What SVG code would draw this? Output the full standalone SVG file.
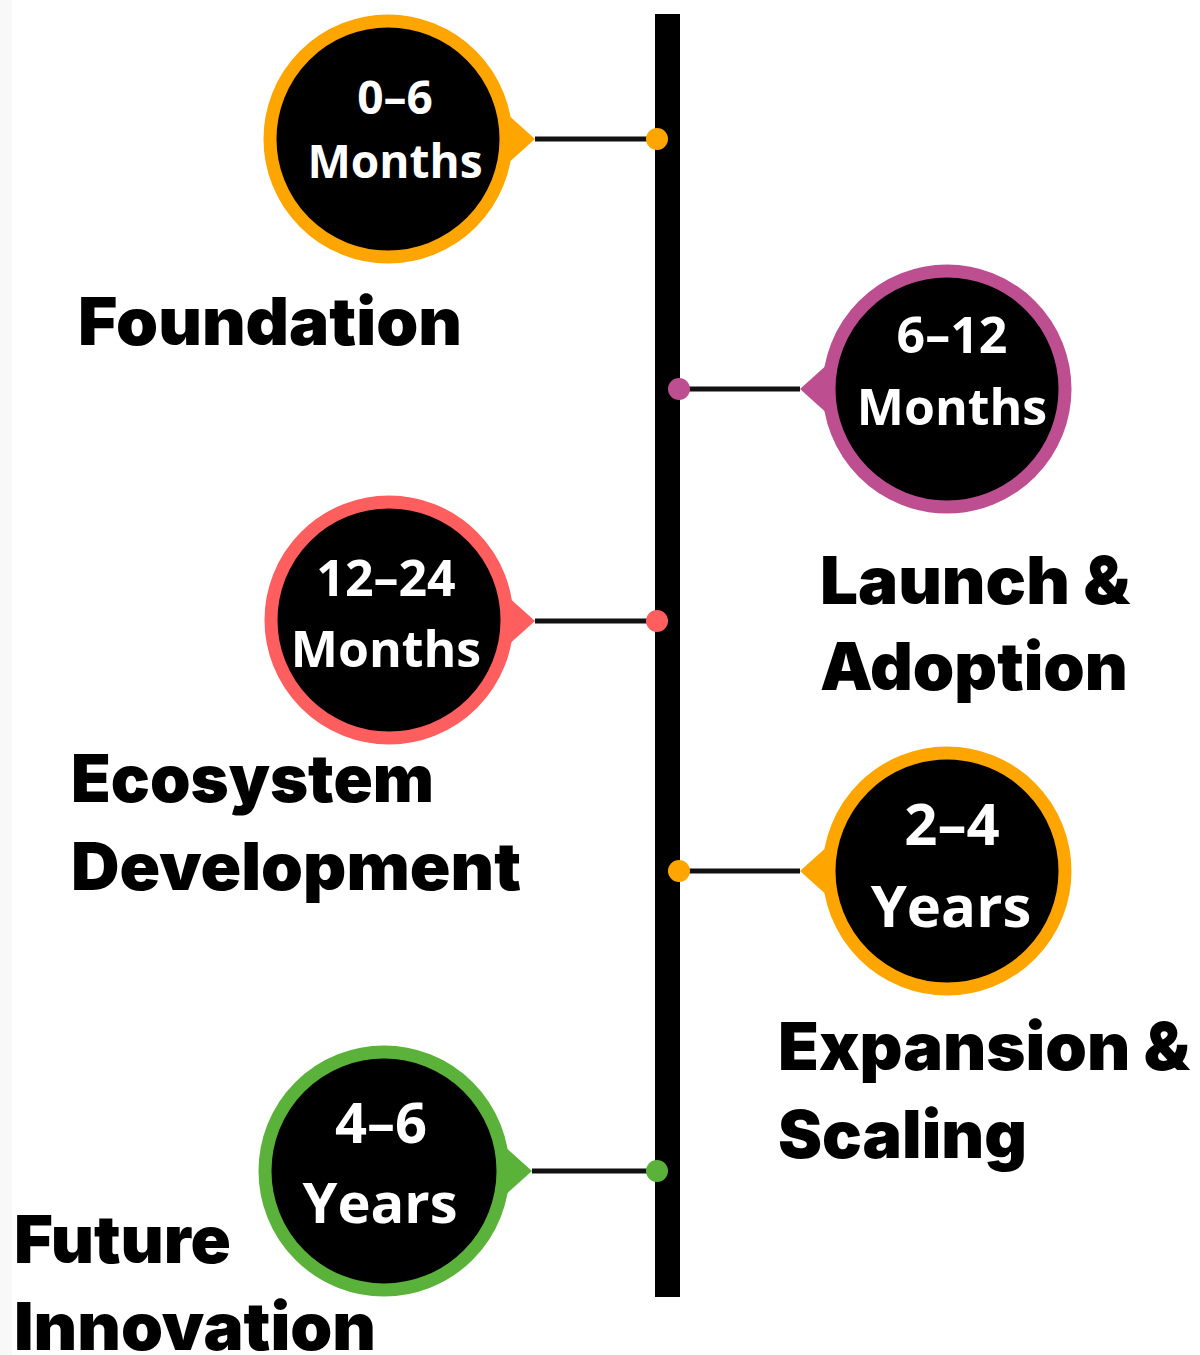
<svg xmlns="http://www.w3.org/2000/svg" width="1200" height="1355" viewBox="0 0 1200 1355">
<style>
.ring{fill:#000;stroke-width:13}
.num{font-family:"Open Sans","Noto Sans",sans-serif;font-weight:700;fill:#fff;text-anchor:middle}
.lbl{font-family:"Inter","Lato",sans-serif;font-weight:900;fill:#000;font-size:66px}
.conn{stroke:#111;stroke-width:5}
</style>
<rect x="0" y="0" width="1200" height="1355" fill="#fff"/>
<rect x="0" y="0" width="12" height="1355" fill="#f8f8f8"/>
<g id="connectors">
<rect id="spine" x="655" y="14" width="25" height="1283" fill="#000"/>
<line class="conn" x1="535" y1="139" x2="657" y2="139"/>
<circle cx="657" cy="139" r="11" fill="#ffa500"/>
<line class="conn" x1="679" y1="389" x2="800" y2="389"/>
<circle cx="679" cy="389" r="11" fill="#bd4f91"/>
<line class="conn" x1="535" y1="621" x2="657" y2="621"/>
<circle cx="657" cy="621" r="11" fill="#ff5e5e"/>
<line class="conn" x1="679" y1="871" x2="800" y2="871"/>
<circle cx="679" cy="871" r="11" fill="#ffa500"/>
<line class="conn" x1="532" y1="1171" x2="657" y2="1171"/>
<circle cx="657" cy="1171" r="11" fill="#5bb23a"/>
</g>
<g id="node1">
<polygon points="505,112 535,139 505,166" fill="#ffa500"/>
<circle class="ring" cx="388" cy="139" r="118" stroke="#ffa500"/>
<text class="num" x="395" y="114" font-size="46">0–6</text>
<text class="num" x="395" y="178" font-size="46">Months</text>
<text class="lbl" x="78" y="345" textLength="384" lengthAdjust="spacingAndGlyphs">Foundation</text>
</g>
<g id="node2">
<polygon points="830,362 800,389 830,416" fill="#bd4f91"/>
<circle class="ring" cx="947" cy="389" r="118" stroke="#bd4f91"/>
<text class="num" x="952" y="353" font-size="50">6–12</text>
<text class="num" x="952" y="425" font-size="50">Months</text>
<text class="lbl" x="820" y="604" textLength="310" lengthAdjust="spacingAndGlyphs">Launch &amp;</text>
<text class="lbl" x="820" y="690" textLength="308" lengthAdjust="spacingAndGlyphs">Adoption</text>
</g>
<g id="node3">
<polygon points="505,594 535,621 505,648" fill="#ff5e5e"/>
<circle class="ring" cx="389" cy="620" r="118" stroke="#ff5e5e"/>
<text class="num" x="386" y="596" font-size="50">12–24</text>
<text class="num" x="386" y="667" font-size="50">Months</text>
<text class="lbl" x="71" y="802" textLength="363" lengthAdjust="spacingAndGlyphs">Ecosystem</text>
<text class="lbl" x="71" y="890" textLength="450" lengthAdjust="spacingAndGlyphs">Development</text>
</g>
<g id="node4">
<polygon points="830,844 800,871 830,898" fill="#ffa500"/>
<circle class="ring" cx="947" cy="871" r="118" stroke="#ffa500"/>
<text class="num" x="952" y="845" font-size="58">2–4</text>
<text class="num" x="951" y="927" font-size="58">Years</text>
<text class="lbl" x="778" y="1070" textLength="412" lengthAdjust="spacingAndGlyphs">Expansion &amp;</text>
<text class="lbl" x="778" y="1158" textLength="249" lengthAdjust="spacingAndGlyphs">Scaling</text>
</g>
<g id="node5">
<polygon points="502,1144 532,1171 502,1198" fill="#5bb23a"/>
<circle class="ring" cx="384" cy="1171" r="119" stroke="#5bb23a"/>
<text class="num" x="381" y="1143" font-size="56">4–6</text>
<text class="num" x="380" y="1223" font-size="56">Years</text>
<text class="lbl" x="14" y="1263" textLength="217" lengthAdjust="spacingAndGlyphs">Future</text>
<text class="lbl" x="14" y="1350" textLength="362" lengthAdjust="spacingAndGlyphs">Innovation</text>
</g>
</svg>
